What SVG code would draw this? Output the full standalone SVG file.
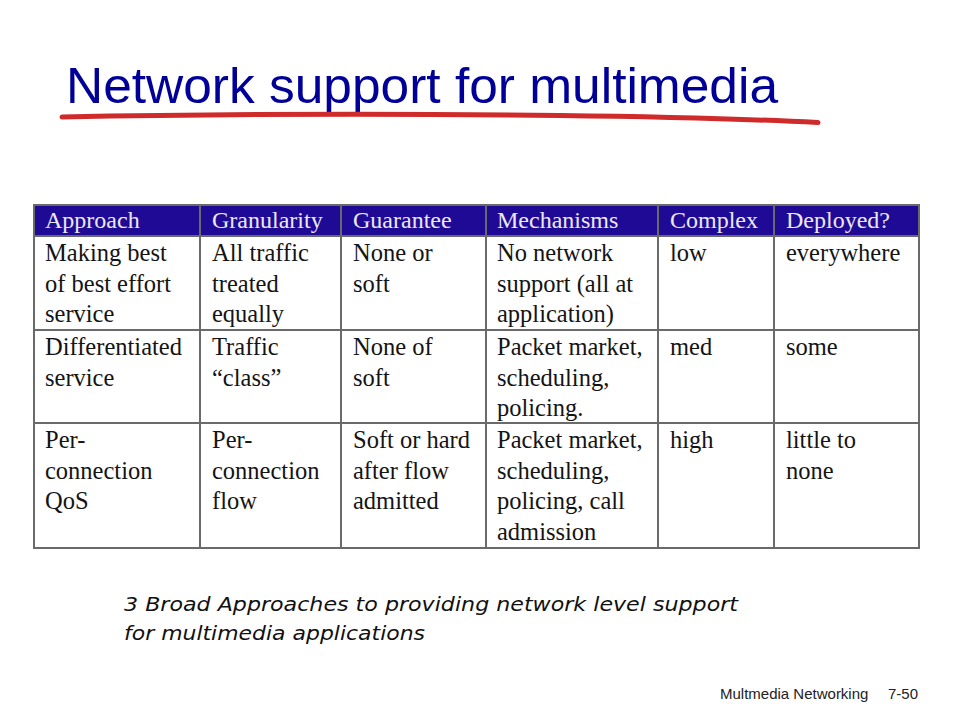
<svg xmlns="http://www.w3.org/2000/svg" width="960" height="720" viewBox="0 0 960 720">
<style>
.title{font-family:"Liberation Sans","DejaVu Sans",sans-serif;font-size:50px;fill:#000099}
.hd{font-family:"Liberation Serif","DejaVu Serif",serif;font-size:24px;fill:#ece8f6}
.cell{font-family:"Liberation Serif","DejaVu Serif",serif;font-size:24.5px;fill:#141414}
.grid{stroke:#6a6a6a;stroke-width:2;fill:none}
.cap{font-family:"DejaVu Sans","Liberation Sans",sans-serif;font-style:italic;font-size:20px;fill:#111}
.foot{font-family:"Liberation Sans",Arial,sans-serif;font-size:15px;fill:#222}
</style>
<rect width="960" height="720" fill="#ffffff"/>
<g id="title">
<text class="title" x="66" y="103" textLength="712" lengthAdjust="spacingAndGlyphs">Network support for multimedia</text>
<path d="M62,117 Q300,112.5 560,115.5 Q720,117.5 818,122.5" stroke="#cf2b2b" stroke-width="5" fill="none" stroke-linecap="round"/>
</g>
<g id="table">
<rect x="34" y="205" width="885" height="31" fill="#1f0a96"/>
<g class="grid">
<rect x="34" y="205" width="885" height="343"/>
<line x1="34" y1="236" x2="919" y2="236"/>
<line x1="34" y1="330" x2="919" y2="330"/>
<line x1="34" y1="423" x2="919" y2="423"/>
<line x1="200" y1="205" x2="200" y2="548"/>
<line x1="341" y1="205" x2="341" y2="548"/>
<line x1="486" y1="205" x2="486" y2="548"/>
<line x1="658" y1="205" x2="658" y2="548"/>
<line x1="774" y1="205" x2="774" y2="548"/>
</g>
<g id="header">
<text class="hd" x="45" y="228">Approach</text>
<text class="hd" x="212" y="228">Granularity</text>
<text class="hd" x="353" y="228">Guarantee</text>
<text class="hd" x="497" y="228">Mechanisms</text>
<text class="hd" x="670" y="228">Complex</text>
<text class="hd" x="786" y="228">Deployed?</text>
</g>
<g id="row1">
<text class="cell" x="45" y="261"><tspan x="45">Making best</tspan><tspan x="45" dy="30.5">of best effort</tspan><tspan x="45" dy="30.5">service</tspan></text>
<text class="cell" x="212" y="261"><tspan x="212">All traffic</tspan><tspan x="212" dy="30.5">treated</tspan><tspan x="212" dy="30.5">equally</tspan></text>
<text class="cell" x="353" y="261"><tspan x="353">None or</tspan><tspan x="353" dy="30.5">soft</tspan></text>
<text class="cell" x="497" y="261"><tspan x="497">No network</tspan><tspan x="497" dy="30.5">support (all at</tspan><tspan x="497" dy="30.5">application)</tspan></text>
<text class="cell" x="670" y="261">low</text>
<text class="cell" x="786" y="261">everywhere</text>
</g>
<g id="row2">
<text class="cell" x="45" y="355"><tspan x="45">Differentiated</tspan><tspan x="45" dy="30.5">service</tspan></text>
<text class="cell" x="212" y="355"><tspan x="212">Traffic</tspan><tspan x="212" dy="30.5">“class”</tspan></text>
<text class="cell" x="353" y="355"><tspan x="353">None of</tspan><tspan x="353" dy="30.5">soft</tspan></text>
<text class="cell" x="497" y="355"><tspan x="497">Packet market,</tspan><tspan x="497" dy="30.5">scheduling,</tspan><tspan x="497" dy="30.5">policing.</tspan></text>
<text class="cell" x="670" y="355">med</text>
<text class="cell" x="786" y="355">some</text>
</g>
<g id="row3">
<text class="cell" x="45" y="448"><tspan x="45">Per-</tspan><tspan x="45" dy="30.5">connection</tspan><tspan x="45" dy="30.5">QoS</tspan></text>
<text class="cell" x="212" y="448"><tspan x="212">Per-</tspan><tspan x="212" dy="30.5">connection</tspan><tspan x="212" dy="30.5">flow</tspan></text>
<text class="cell" x="353" y="448"><tspan x="353">Soft or hard</tspan><tspan x="353" dy="30.5">after flow</tspan><tspan x="353" dy="30.5">admitted</tspan></text>
<text class="cell" x="497" y="448"><tspan x="497">Packet market,</tspan><tspan x="497" dy="30.5">scheduling,</tspan><tspan x="497" dy="30.5">policing, call</tspan><tspan x="497" dy="30.5">admission</tspan></text>
<text class="cell" x="670" y="448">high</text>
<text class="cell" x="786" y="448"><tspan x="786">little to</tspan><tspan x="786" dy="30.5">none</tspan></text>
</g>
</g>
<g id="caption">
<text class="cap" x="124" y="611" textLength="614" lengthAdjust="spacingAndGlyphs">3 Broad Approaches to providing network level support</text>
<text class="cap" x="124" y="640" textLength="301" lengthAdjust="spacingAndGlyphs">for multimedia applications</text>
</g>
<g id="footer">
<text class="foot" x="720" y="699">Multmedia Networking</text>
<text class="foot" x="918" y="699" text-anchor="end">7-50</text>
</g>
</svg>
